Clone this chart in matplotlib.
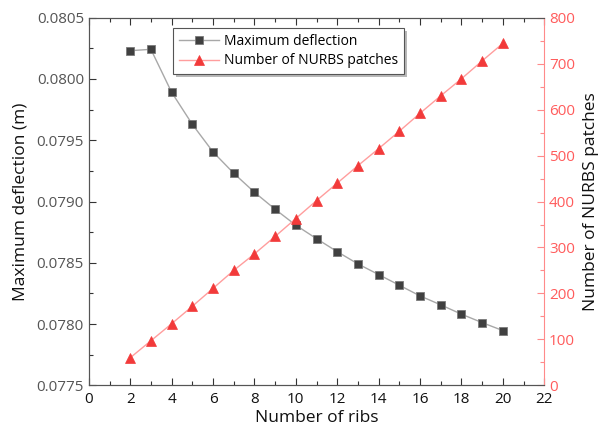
import matplotlib
matplotlib.use("Agg")
import matplotlib.pyplot as plt
from matplotlib.ticker import MultipleLocator

plt.rcParams['font.family'] = ['Open Sans', 'DejaVu Sans']

ribs = [2, 3, 4, 5, 6, 7, 8, 9, 10, 11, 12, 13, 14, 15, 16, 17, 18, 19, 20]
max_deflection = [0.080231, 0.080242, 0.079892, 0.079630, 0.079405, 0.079231,
                  0.079076, 0.078937, 0.078807, 0.078697, 0.078591, 0.078491,
                  0.078404, 0.078317, 0.078230, 0.078157, 0.078081, 0.078012,
                  0.077947]
nurbs_patches = [60, 97, 134, 172, 211, 250, 286, 324, 363, 402, 440, 478,
                 515, 553, 592, 630, 667, 706, 744]

red = '#f23a3a'
red_axis = '#ff5c5c'
red_spine = '#ff8a8a'

fig = plt.figure(figsize=(6, 4.32), dpi=100)
ax = fig.add_axes([0.148, 0.108, 0.759, 0.851])
ax2 = ax.twinx()

l1, = ax.plot(ribs, max_deflection, color='#a8a8a8', lw=1.0, marker='s',
              markersize=5.5, markerfacecolor='#404040', markeredgecolor='#7a7a7a',
              markeredgewidth=0.6, label='Maximum deflection', zorder=3)
l2, = ax2.plot(ribs, nurbs_patches, color='#ff9d9d', lw=1.0, marker='^',
               markersize=7, markerfacecolor=red, markeredgecolor=red,
               markeredgewidth=0.5, label='Number of NURBS patches', zorder=3)

ax.set_xlim(0, 22)
ax.set_ylim(0.0775, 0.0805)
ax2.set_ylim(0, 800)

ax.xaxis.set_major_locator(MultipleLocator(2))
ax.xaxis.set_minor_locator(MultipleLocator(1))
ax.yaxis.set_major_locator(MultipleLocator(0.0005))
ax.yaxis.set_minor_locator(MultipleLocator(0.00025))
ax2.yaxis.set_major_locator(MultipleLocator(100))
ax2.yaxis.set_minor_locator(MultipleLocator(50))
ax.yaxis.set_major_formatter(matplotlib.ticker.FormatStrFormatter('%.4f'))

ax.tick_params(axis='both', which='major', direction='in', length=5, width=0.8,
               colors='#333333', labelsize=11, top=True)
ax.tick_params(axis='both', which='minor', direction='in', length=3, width=0.8,
               colors='#333333', top=True)
ax.tick_params(axis='y', labelcolor='#555555')
ax.tick_params(axis='x', labelcolor='#111111', pad=5)
ax2.tick_params(axis='y', which='major', direction='in', length=5, width=0.8,
                colors=red_spine, labelcolor=red_axis, labelsize=11)
ax2.tick_params(axis='y', which='minor', direction='in', length=3, width=0.8,
                colors=red_spine)

for s in ['left', 'top', 'bottom']:
    ax.spines[s].set_color('#555555')
    ax2.spines[s].set_color('#555555')
ax2.spines['right'].set_color(red_spine)
ax.spines['right'].set_visible(False)

ax.set_xlabel('Number of ribs', fontsize=12.5, color='#111111', labelpad=2)
ax.set_ylabel('Maximum deflection (m)', fontsize=12.5, color='#111111', labelpad=6)
ax2.set_ylabel('Number of NURBS patches', fontsize=12.5, color='#111111', labelpad=6)

leg = ax2.legend(handles=[l1, l2], loc='upper left', bbox_to_anchor=(0.185, 0.972),
                 fontsize=10, frameon=True, fancybox=False,
                 shadow={'facecolor': '#b8b8b8', 'edgecolor': 'none', 'alpha': 1},
                 handlelength=2.9, borderpad=0.4, labelspacing=0.35,
                 handletextpad=0.4, borderaxespad=0)
leg.get_frame().set_edgecolor('#555555')
leg.get_frame().set_linewidth(0.8)

fig.savefig('out.png', dpi=100)
